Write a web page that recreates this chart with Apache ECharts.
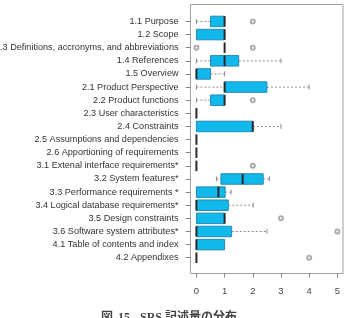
<!DOCTYPE html>
<html>
<head>
<meta charset="utf-8">
<script src="https://cdn.jsdelivr.net/npm/echarts@6/dist/echarts.min.js"></script>
<style>
  html, body { margin: 0; padding: 0; background: #fff; }
  #main { width: 346px; height: 318px; }
</style>
</head>
<body>
<div id="main"></div>
<script>
var categories = [
  '1.1 Purpose', '1.2 Scope', '1.3 Definitions, accronyms, and abbreviations',
  '1.4 References', '1.5 Overview', '2.1 Product Perspective', '2.2 Product functions',
  '2.3 User characteristics', '2.4 Constraints', '2.5 Assumptions and dependencies',
  '2.6 Apportioning of requirements', '3.1 Extenal interface requirements*',
  '3.2 System features*', '3.3 Performance requirements *', '3.4 Logical database requirements*',
  '3.5 Design constraints', '3.6 Software system attributes*', '4.1 Table of contents and index',
  '4.2 Appendixes'
];
var whiskerLow  = [0, 0, 1, 0,   0,   0,   0,   0, 0, 0, 0, 0, 0.71, 0,    0,    0, 0,    0, 0];
var boxLow      = [0.5, 0, 1, 0.5, 0, 1,   0.5, 0, 0, 0, 0, 0, 0.87, 0,    0,    0, 0,    0, 0];
var medians     = [1, 1, 1, 1,   0,   1,   1,   0, 2, 0, 0, 0, 1.64, 0.78, 0,    1, 0,    0, 0];
var boxHigh     = [1, 1, 1, 1.5, 0.5, 2.5, 1,   0, 2, 0, 0, 0, 2.37, 1.02, 1.13, 1, 1.25, 1, 0];
var whiskerHigh = [1, 1, 1, 3,   1,   4,   1,   0, 3, 0, 0, 0, 2.59, 1.23, 2.01, 1, 2.5,  1, 0];
// [value, row]
var outliers = [[2, 0], [0, 2], [2, 2], [2, 6], [2, 11], [3, 15], [5, 16], [4, 18]];
var xTicks = [0, 1, 2, 3, 4, 5];
var rowTicks = categories.map(function (c, i) { return i; });

var boxRows = categories.map(function (c, i) {
  return [i, whiskerLow[i], boxLow[i], medians[i], boxHigh[i], whiskerHigh[i]];
});

function renderBox(params, api) {
  var i = api.value(0);
  var lo = api.coord([api.value(1), i]);
  var q1 = api.coord([api.value(2), i]);
  var md = api.coord([api.value(3), i]);
  var q3 = api.coord([api.value(4), i]);
  var hi = api.coord([api.value(5), i]);
  var h = api.size([0, 1])[1] * 0.8;
  var y = md[1];
  var kids = [];
  var dash = { stroke: '#8a8a8a', lineWidth: 1, lineDash: [2, 2] };
  var cap = { stroke: '#8a8a8a', lineWidth: 1 };
  if (lo[0] < q1[0] - 0.5) {
    kids.push({ type: 'line', shape: { x1: lo[0], y1: y, x2: q1[0], y2: y }, style: dash });
    kids.push({ type: 'line', shape: { x1: lo[0], y1: y - 2.5, x2: lo[0], y2: y + 2.5 }, style: cap });
  }
  if (hi[0] > q3[0] + 0.5) {
    kids.push({ type: 'line', shape: { x1: q3[0], y1: y, x2: hi[0], y2: y }, style: dash });
    kids.push({ type: 'line', shape: { x1: hi[0], y1: y - 2.5, x2: hi[0], y2: y + 2.5 }, style: cap });
  }
  if (q3[0] > q1[0] + 0.5) {
    kids.push({
      type: 'rect',
      shape: { x: q1[0], y: y - h / 2, width: q3[0] - q1[0], height: h },
      style: { fill: '#10b9ec', stroke: '#2b89b3', lineWidth: 1 }
    });
  }
  kids.push({
    type: 'line',
    shape: { x1: md[0], y1: y - h / 2, x2: md[0], y2: y + h / 2 },
    style: { stroke: '#2a2a2a', lineWidth: 2 }
  });
  return { type: 'group', children: kids };
}

var myChart = echarts.init(document.getElementById('main'));
myChart.setOption({
  animation: false,
  title: {
    text: '{a|図} {b|15}  {a|SRS 記述量の分布}',
    left: 96,
    top: 304,
    textStyle: {
      rich: {
        a: { fontFamily: 'Liberation Serif, Noto Sans CJK JP', fontSize: 12, color: '#444' },
        b: { fontFamily: 'Liberation Serif', fontSize: 12, fontWeight: 'bold', color: '#444' }
      }
    }
  },
  grid: {
    left: 190.5, right: 3, top: 4.5, bottom: 44.5,
    outerBoundsMode: 'none',
    containLabel: false,
    show: true, borderColor: '#a0a0a0', borderWidth: 1
  },
  xAxis: {
    type: 'value',
    min: -0.21,
    max: 5.2,
    position: 'bottom',
    axisLine: { show: false, onZero: false },
    axisTick: { show: true, length: 4, customValues: xTicks, lineStyle: { color: '#888' } },
    axisLabel: {
      margin: 13,
      fontSize: 9.5,
      fontFamily: 'Liberation Sans',
      color: '#444',
      customValues: xTicks
    },
    splitLine: { show: false }
  },
  yAxis: {
    type: 'value',
    inverse: true,
    min: -1.29,
    max: 19.2,
    position: 'left',
    axisLine: { show: false, onZero: false },
    axisTick: { show: true, length: 5, customValues: rowTicks, lineStyle: { color: '#888' } },
    axisLabel: {
      margin: 12,
      fontSize: 9.1,
      fontFamily: 'Liberation Sans',
      color: '#333',
      customValues: rowTicks,
      formatter: function (v) { return categories[Math.round(v)] || ''; }
    },
    splitLine: { show: false }
  },
  series: [
    {
      type: 'custom',
      renderItem: renderBox,
      encode: { x: [1, 2, 3, 4, 5], y: 0 },
      data: boxRows,
      z: 2
    },
    {
      type: 'scatter',
      symbol: 'emptyCircle',
      symbolSize: 4,
      itemStyle: { color: '#999', borderColor: '#999', borderWidth: 0.8 },
      data: outliers,
      z: 3
    }
  ]
});
</script>
</body>
</html>
